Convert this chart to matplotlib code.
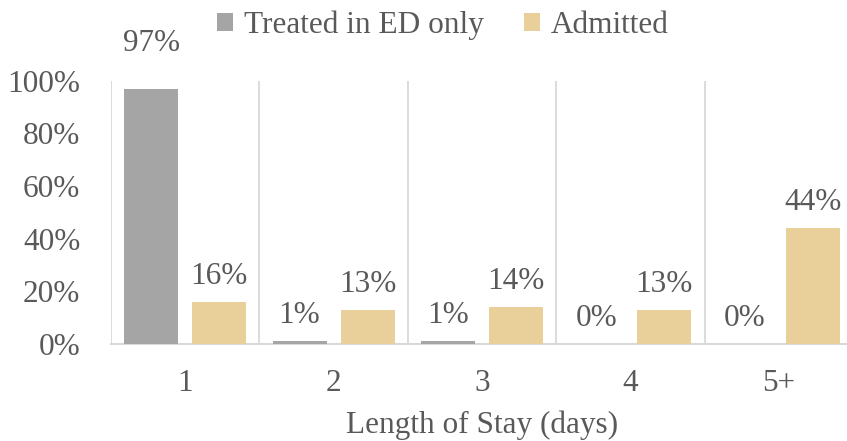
import matplotlib.pyplot as plt
import numpy as np

plt.rcParams['font.family'] = ['Liberation Serif', 'DejaVu Serif']

stay = ['1', '2', '3', '4', '5+']
ed_only = [97, 1, 1, 0, 0]
admitted = [16, 13, 14, 13, 44]

grey = '#A5A5A5'
tan = '#E9D09A'
txt = '#595959'
grid = '#D9D9D9'
fs = 22.5

fig = plt.figure(figsize=(8.47, 4.41), dpi=100)
ax = fig.add_axes([0.131, 0.22, 0.876, 0.597])

x = np.arange(len(stay))
w = 0.364
off = 0.229
b1 = ax.bar(x - off, np.array(ed_only) / 100, w, color=grey, label='Treated in ED only', zorder=3)
b2 = ax.bar(x + off, np.array(admitted) / 100, w, color=tan, label='Admitted', zorder=3)

# value labels above each bar
for bars, vals in ((b1, ed_only), (b2, admitted)):
    for r, v in zip(bars, vals):
        dy = 27 if v > 90 else 13
        ax.annotate(f'{v}%', (r.get_x() + r.get_width() / 2, r.get_height()),
                    xytext=(0, dy), textcoords='offset points',
                    ha='center', va='baseline', fontsize=fs, color=txt)

# category separators
for b in np.arange(-0.5, len(stay)):
    ax.axvline(b, color=grid, lw=1.3, zorder=1)

ax.set_xlim(-0.5, len(stay) - 0.5)
ax.set_ylim(0, 1.0)
ax.set_yticks(np.arange(0, 1.01, 0.2))
ax.set_yticklabels([f'{int(round(t * 100))}%' for t in np.arange(0, 1.01, 0.2)])
ax.set_xticks(x)
ax.set_xticklabels(stay)
ax.tick_params(length=0, labelsize=fs, colors=txt)
ax.tick_params(axis='x', pad=18)
ax.tick_params(axis='y', pad=22)
for s in ['top', 'right', 'left']:
    ax.spines[s].set_visible(False)
ax.spines['bottom'].set_color(grid)
ax.spines['bottom'].set_linewidth(1.5)
ax.set_xlabel('Length of Stay (days)', fontsize=fs, color=txt, labelpad=9)

leg = fig.legend(loc='center', bbox_to_anchor=(0.523, 0.943), ncol=2, frameon=False,
                 fontsize=fs, handlelength=0.5, handleheight=0.5, handletextpad=0.35,
                 columnspacing=1.3, borderpad=0)
for t in leg.get_texts():
    t.set_color(txt)

fig.savefig('out.png', dpi=100)
